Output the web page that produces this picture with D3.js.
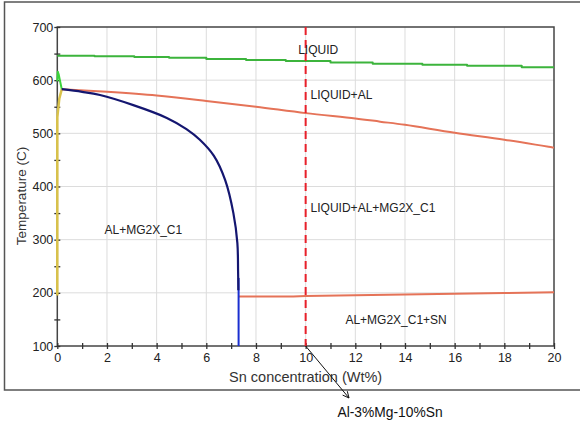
<!DOCTYPE html>
<html><head><meta charset="utf-8">
<script src="https://cdn.jsdelivr.net/npm/d3@7"></script>
<style>body{margin:0;background:#fff}svg{display:block}text{font-family:"Liberation Sans",Arial,sans-serif}</style>
</head><body>
<svg id="c" width="580" height="425"></svg>
<script>
// ---- data ----
const xTicks = [0,2,4,6,8,10,12,14,16,18,20];
const yTicks = [100,200,300,400,500,600,700];
// liquidus (green, stepped)
const liquidusX = [0,1.5,3.1,4.5,6.0,7.6,9.2,11.0,12.7,14.7,16.5,18.7,20];
const liquidusT = [646,645,643.5,642,640,638,636,633,631,629,627,624.5,624.5];
// small green branch near x=0
const greenSmallX = [0,0.02,0.06,0.18];
const greenSmallT = [598,616,610,583];
// yellow branch near x=0
const yellowX = [0,0,0.08,0.18];
const yellowT = [195,530,565,583];
// upper red (LIQUID+AL / LIQUID+AL+MG2X_C1 boundary)
const redUpX = [0.18,2,4,6,8,10,12,13,14,16,18,20];
const redUpT = [583,578,571,561,550,538,528,522,516,501,488,473];
// solvus (navy)
const solvusX = [0.18,1,1.72,3.06,4.41,5.2,5.74,6.3,6.76,7.09,7.25,7.28,7.29];
const solvusT = [583,578,572,553,529,508,488,458,412,350,294,240,205];
// blue vertical
const blueX = [7.3,7.3];
const blueT = [228,100];
// lower red (Sn boundary)
const redLowX = [7.3,9.5,10,12,14,16,18,20];
const redLowT = [193,193,194,195.5,197,198.5,199.5,201];
// composition marker
const markerX = 10;
const regionLabels = ["LIQUID","LIQUID+AL","LIQUID+AL+MG2X_C1","AL+MG2X_C1","AL+MG2X_C1+SN"];
const regionX = [9.7,10.2,10.2,1.9,11.6];
const regionT = [650,565,352,310,142];
const alloyLabel = "Al-3%Mg-10%Sn";

// ---- drawing ----
const svg = d3.select("#c");
const x = d3.scaleLinear().domain([0,20]).range([57.3,554]);
const y = d3.scaleLinear().domain([100,700]).range([346,27]);

// outer frame
svg.append("rect").attr("x",4.5).attr("y",2).attr("width",590).attr("height",388)
  .attr("fill","none").attr("stroke","#555").attr("stroke-width",1.5);

// grid
svg.append("g").selectAll("line").data(xTicks.slice(1,-1)).join("line")
  .attr("x1",d=>x(d)).attr("x2",d=>x(d)).attr("y1",y(700)).attr("y2",y(100))
  .attr("stroke","#dcdcdc").attr("stroke-width",1);
svg.append("g").selectAll("line").data(yTicks.slice(1,-1)).join("line")
  .attr("y1",d=>y(d)).attr("y2",d=>y(d)).attr("x1",x(0)).attr("x2",x(20))
  .attr("stroke","#dcdcdc").attr("stroke-width",1);

// plot frame
svg.append("rect").attr("x",x(0)).attr("y",y(700)).attr("width",x(20)-x(0)).attr("height",y(100)-y(700))
  .attr("fill","none").attr("stroke","#444").attr("stroke-width",1.5);

// axes
const xAxis = d3.axisBottom(x).tickValues(d3.range(0,21,1)).tickSizeInner(3).tickSizeOuter(0)
  .tickFormat(d=> d%2===0 ? d : "");
const gx = svg.append("g").attr("transform",`translate(0,${y(100)})`).call(xAxis);
gx.select(".domain").remove();
gx.selectAll(".tick line").attr("y1",-3).attr("y2",3).attr("stroke","#333").attr("stroke-width",1.3);
gx.selectAll(".tick text").attr("y",7).attr("font-size",12.5).attr("fill","#222")
  .attr("font-family","Liberation Sans, Arial, sans-serif");

const yAxis = d3.axisLeft(y).tickValues(d3.range(100,701,50)).tickSizeInner(3).tickSizeOuter(0)
  .tickFormat(d=> d%100===0 ? d : "");
const gy = svg.append("g").attr("transform",`translate(${x(0)},0)`).call(yAxis);
gy.select(".domain").remove();
gy.selectAll(".tick line").attr("x1",-3).attr("x2",3).attr("stroke","#333").attr("stroke-width",1.3);
gy.selectAll(".tick text").attr("x",-4).attr("font-size",12.5).attr("fill","#222")
  .attr("font-family","Liberation Sans, Arial, sans-serif");

const zip = (a,b)=>a.map((v,i)=>[v,b[i]]);
function path(xs,ts,color,w,curve){
  const gen = d3.line().x(d=>x(d[0])).y(d=>y(d[1])).curve(curve || d3.curveLinear);
  svg.append("path").datum(zip(xs,ts)).attr("d",gen)
    .attr("fill","none").attr("stroke",color).attr("stroke-width",w)
    .attr("stroke-linejoin","round");
}
path(yellowX,yellowT,"#d9c24a",2.5);
path(liquidusX,liquidusT,"#3cb43c",2,d3.curveStepAfter);
path(greenSmallX,greenSmallT,"#3cd23c",2);
path(redUpX,redUpT,"#e57358",2,d3.curveCatmullRom.alpha(0.5));
path(redLowX,redLowT,"#e57358",2);
path(blueX,blueT,"#1a2fd0",2);
path(solvusX,solvusT,"#141670",2.2,d3.curveCatmullRom.alpha(0.5));

// composition marker line
svg.append("line").attr("x1",x(markerX)).attr("x2",x(markerX)).attr("y1",y(700)).attr("y2",y(100))
  .attr("stroke","#e8202a").attr("stroke-width",2).attr("stroke-dasharray","8,5");

// region labels
svg.append("g").selectAll("text").data(regionLabels).join("text")
  .attr("x",(d,i)=>x(regionX[i])).attr("y",(d,i)=>y(regionT[i]))
  .attr("font-size",12).attr("fill","#222").text(d=>d);

// axis titles
svg.append("text").attr("x",x(10)).attr("y",381.5).attr("text-anchor","middle")
  .attr("font-size",14.5).attr("fill","#333").text("Sn concentration (Wt%)");
svg.append("text").attr("transform","translate(26,196) rotate(-90)").attr("text-anchor","middle")
  .attr("font-size",13.5).attr("fill","#333").text("Temperature (C)");

// annotation arrow
const ax1 = x(markerX), ay1 = y(100), ax2 = 349, ay2 = 398;
svg.append("line").attr("x1",ax1).attr("y1",ay1).attr("x2",ax2).attr("y2",ay2)
  .attr("stroke","#111").attr("stroke-width",1);
const ang = Math.atan2(ay2-ay1, ax2-ax1);
[ang+Math.PI-0.45, ang+Math.PI+0.45].forEach(a=>{
  svg.append("line").attr("x1",ax2).attr("y1",ay2)
    .attr("x2",ax2+7*Math.cos(a)).attr("y2",ay2+7*Math.sin(a))
    .attr("stroke","#111").attr("stroke-width",1);
});
svg.append("text").attr("x",337.5).attr("y",416.5).attr("font-size",13.8)
  .attr("font-family","Open Sans, Liberation Sans, sans-serif").attr("fill","#111").text(alloyLabel);
</script>
</body></html>
